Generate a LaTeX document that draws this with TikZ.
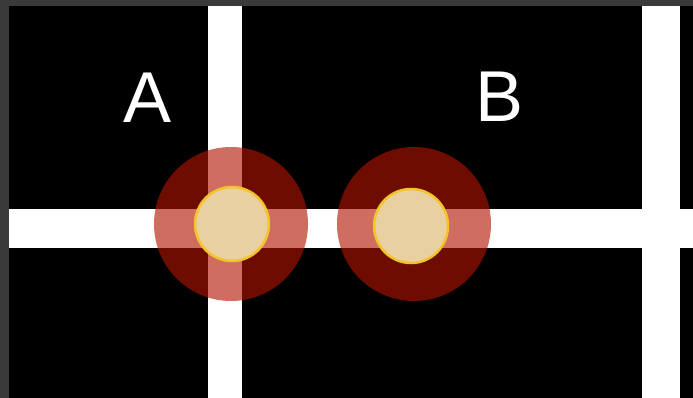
\documentclass[tikz,border=0pt]{standalone}
\usepackage{fontspec}
\setmainfont{Liberation Sans}
\definecolor{frame}{RGB}{58,58,58}
\definecolor{halo}{RGB}{180,20,0}
\definecolor{padfill}{RGB}{232,208,160}
\definecolor{padrim}{RGB}{242,196,40}
\begin{document}
\begin{tikzpicture}[x=1pt,y=-1pt,
  trace/.style={fill=white,draw=none},
  halostyle/.style={circle,fill=halo,fill opacity=0.62,draw=none,minimum size=154pt,inner sep=0pt},
  padstyle/.style={circle,fill=padfill,draw=padrim,line width=2.5pt,minimum size=74pt,inner sep=0pt},
  lbl/.style={text=white,font=\fontsize{72}{72}\selectfont,inner sep=0pt}]
\useasboundingbox (0,0) rectangle (693,398);
\fill[frame] (0,0) rectangle (693,398);
\fill[black] (9,6) rectangle (693,398);
% white traces
\fill[trace] (208,6) rectangle (242,398);
\fill[trace] (642,6) rectangle (680,398);
\fill[trace] (9,209) rectangle (693,248);
% halos
\node[halostyle] (haloA) at (231,224) {};
\node[halostyle] (haloB) at (414,224) {};
% pads
\node[padstyle] (padA) at (232,224) {};
\node[padstyle] (padB) at (411,226) {};
% labels
\node[lbl,anchor=base] (labA) at (148,123) {A};
\node[lbl,anchor=base] (labB) at (500,122) {B};
\end{tikzpicture}
\end{document}
